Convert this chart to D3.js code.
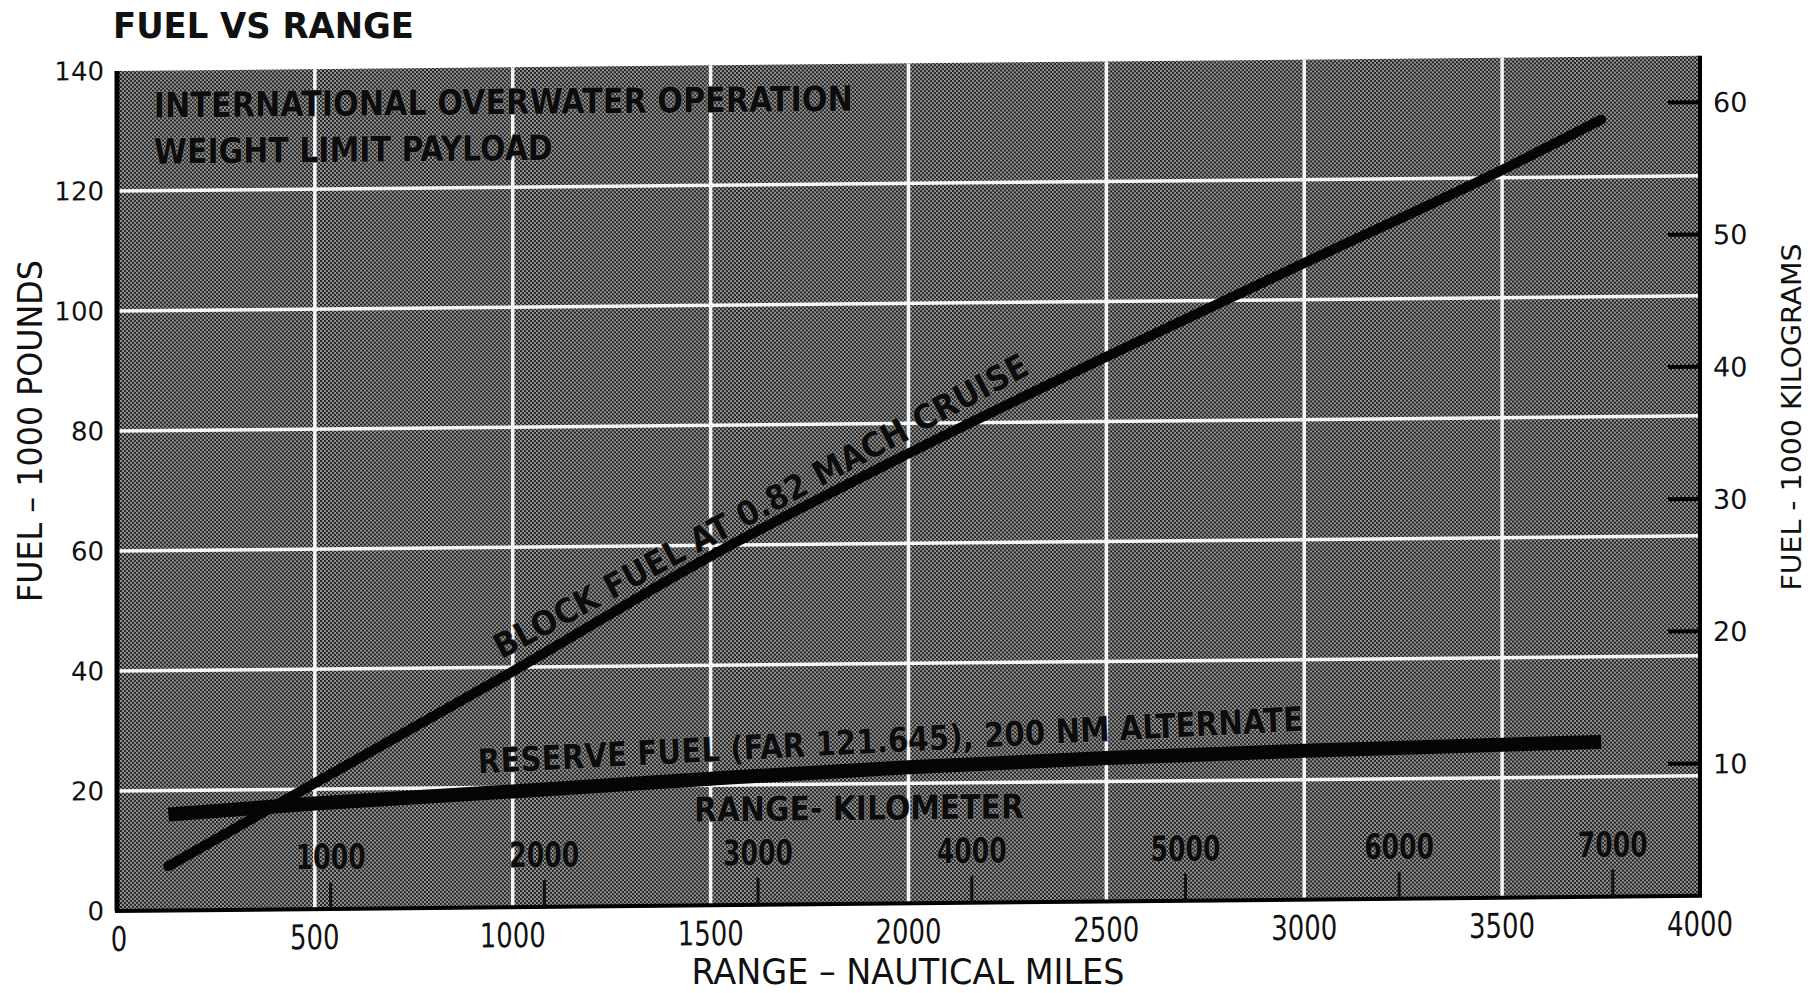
<!DOCTYPE html>
<html><head><meta charset="utf-8">
<script src="https://cdn.jsdelivr.net/npm/d3@7"></script>
<style>
html,body{margin:0;padding:0;background:#fff;}
svg{display:block;}
</style></head>
<body>
<svg id="chart" width="1815" height="993"></svg>
<script>
// ---------------- data ----------------
const rangeNM     = [130, 500, 1000, 1500, 2000, 2500, 3000, 3500, 3750];
const blockFuel   = [7.4, 21.0, 39.3, 58.2, 75.0, 90.8, 106.1, 121.3, 129.5];   // 1000 lb
const reserveFuel = [16.0, 17.6, 19.3, 21.1, 22.7, 23.9, 24.8, 25.5, 25.8];     // 1000 lb
const xTicksNM  = [0, 500, 1000, 1500, 2000, 2500, 3000, 3500, 4000];
const yTicksLb  = [0, 20, 40, 60, 80, 100, 120, 140];
const yTicksKg  = [10, 20, 30, 40, 50, 60];
const kmTicks   = [1000, 2000, 3000, 4000, 5000, 6000, 7000];
const KM_PER_NM = 1.852;
const LB_PER_KG = 2.20462;

const titleText   = "FUEL VS RANGE";
const noteLine1   = "INTERNATIONAL OVERWATER OPERATION";
const noteLine2   = "WEIGHT LIMIT PAYLOAD";
const blockLabel  = "BLOCK FUEL AT 0.82 MACH CRUISE";
const reserveLabel= "RESERVE FUEL (FAR 121.645), 200 NM ALTERNATE";
const kmLabel     = "RANGE- KILOMETER";
const xTitle      = "RANGE \u2013 NAUTICAL MILES";
const yTitleL     = "FUEL \u2013 1000 POUNDS";
const yTitleR     = "FUEL - 1000 KILOGRAMS";

// ---------------- layout ----------------
const svg = d3.select("#chart");
const X0 = 117, X1 = 1700, Y0 = 911, Y1 = 71;
const x = d3.scaleLinear().domain([0, 4000]).range([X0, X1]);
const y = d3.scaleLinear().domain([0, 140]).range([Y0, Y1]);
const yKg = d3.scaleLinear().domain([0, 140 / LB_PER_KG]).range([Y0, Y1]);

const NARROW = "'Liberation Sans Narrow','DejaVu Sans Condensed','Liberation Sans',sans-serif";
const WIDE = "'DejaVu Sans','Liberation Sans',sans-serif";

// halftone pattern
const defs = svg.append("defs");
const pat = defs.append("pattern").attr("id", "halftone")
  .attr("patternUnits", "userSpaceOnUse").attr("width", 4).attr("height", 4);
pat.append("rect").attr("width", 4).attr("height", 4).attr("fill", "#1c1c1c");
pat.append("rect").attr("x", 0).attr("y", 0).attr("width", 2).attr("height", 2).attr("fill", "#9a9a9a");
pat.append("rect").attr("x", 2).attr("y", 2).attr("width", 2).attr("height", 2).attr("fill", "#9a9a9a");

// chart title (not skewed)
svg.append("text").attr("x", 113).attr("y", 38)
  .attr("font-family", NARROW).attr("font-weight", "bold").attr("font-size", 36)
  .attr("textLength", 301).attr("lengthAdjust", "spacingAndGlyphs")
  .attr("fill", "#111").text(titleText);

// the scanned page is slightly skewed: right side sits higher
const g = svg.append("g")
  .attr("transform", `translate(${X0},0) skewY(-0.55) translate(${-X0},0)`);

// background
g.append("rect").attr("x", x(0)).attr("y", y(140))
  .attr("width", x(4000) - x(0)).attr("height", y(0) - y(140))
  .attr("fill", "url(#halftone)");

// white grid
g.append("g").selectAll("line").data(xTicksNM.filter(v => v > 0 && v < 4000)).join("line")
  .attr("x1", d => x(d)).attr("x2", d => x(d)).attr("y1", y(140)).attr("y2", y(0))
  .attr("stroke", "#f6f6f6").attr("stroke-width", 3.5);
g.append("g").selectAll("line").data(yTicksLb.filter(v => v > 0 && v < 140)).join("line")
  .attr("x1", x(0)).attr("x2", x(4000)).attr("y1", d => y(d)).attr("y2", d => y(d))
  .attr("stroke", "#f6f6f6").attr("stroke-width", 3.5);

// frame
g.append("line").attr("x1", x(0)).attr("x2", x(0)).attr("y1", y(140)).attr("y2", y(0))
  .attr("stroke", "#000").attr("stroke-width", 5);
g.append("line").attr("x1", x(4000)).attr("x2", x(4000)).attr("y1", y(140)).attr("y2", y(0))
  .attr("stroke", "#000").attr("stroke-width", 4);
g.append("line").attr("x1", x(0) - 2).attr("x2", x(4000) + 2).attr("y1", y(0)).attr("y2", y(0))
  .attr("stroke", "#000").attr("stroke-width", 4);

// left axis labels
g.append("g").selectAll("text").data(yTicksLb).join("text")
  .attr("x", x(0) - 13).attr("y", d => y(d) + 9)
  .attr("text-anchor", "end").attr("font-family", WIDE).attr("font-size", 26)
  .attr("fill", "#111").text(d => d);

// bottom axis labels
g.append("g").selectAll("text").data(xTicksNM).join("text")
  .attr("x", d => x(d) + (d === 0 ? 2 : 0)).attr("y", y(0) + 40)
  .attr("text-anchor", "middle").attr("font-family", NARROW).attr("font-size", 34)
  .attr("textLength", d => String(d).length * 16.5).attr("lengthAdjust", "spacingAndGlyphs")
  .attr("fill", "#111").text(d => d);

// right axis (kg)
g.append("g").selectAll("line").data(yTicksKg).join("line")
  .attr("x1", x(4000) - 32).attr("x2", x(4000)).attr("y1", d => yKg(d)).attr("y2", d => yKg(d))
  .attr("stroke", "#000").attr("stroke-width", 4);
g.append("g").selectAll("text").data(yTicksKg).join("text")
  .attr("x", x(4000) + 13).attr("y", d => yKg(d) + 10)
  .attr("font-family", WIDE).attr("font-size", 27)
  .attr("fill", "#111").text(d => d);

// km scale inside the plot
g.append("g").selectAll("line").data(kmTicks).join("line")
  .attr("x1", d => x(d / KM_PER_NM)).attr("x2", d => x(d / KM_PER_NM))
  .attr("y1", y(0)).attr("y2", y(0) - 27)
  .attr("stroke", "#111").attr("stroke-width", 3);
const labelStyle = sel => sel
  .attr("font-family", NARROW).attr("font-weight", "bold")
  .attr("fill", "#0c0c0c").attr("stroke", "#7a7a7a").attr("stroke-width", 1.2)
  .attr("paint-order", "stroke");
g.append("g").selectAll("text").data(kmTicks).join("text")
  .attr("x", d => x(d / KM_PER_NM)).attr("y", y(0) - 40)
  .attr("text-anchor", "middle").attr("font-size", 35)
  .attr("textLength", 70).attr("lengthAdjust", "spacingAndGlyphs")
  .call(labelStyle).text(d => d);

g.append("text").attr("x", x(1458)).attr("y", y(14))
  .attr("font-size", 34).attr("textLength", 330).attr("lengthAdjust", "spacingAndGlyphs")
  .call(labelStyle).text(kmLabel);

// header notes
g.append("text").attr("x", x(93)).attr("y", y(132.2))
  .attr("font-size", 35).attr("textLength", 699).attr("lengthAdjust", "spacingAndGlyphs")
  .call(labelStyle).text(noteLine1);
g.append("text").attr("x", x(93)).attr("y", y(124.5))
  .attr("font-size", 35).attr("textLength", 399).attr("lengthAdjust", "spacingAndGlyphs")
  .call(labelStyle).text(noteLine2);

// curves
const pts = s => rangeNM.map((r, i) => [r, s[i]]);
const line = d3.line().x(d => x(d[0])).y(d => y(d[1])).curve(d3.curveMonotoneX);

g.append("path").datum(pts(reserveFuel)).attr("d", line)
  .attr("fill", "none").attr("stroke", "#050505").attr("stroke-width", 14)
  .attr("stroke-linecap", "butt");
g.append("path").datum(pts(blockFuel)).attr("d", line)
  .attr("fill", "none").attr("stroke", "#050505").attr("stroke-width", 10)
  .attr("stroke-linecap", "round");

// labels along the curves
function interp(series, r) {
  return d3.scaleLinear().domain(rangeNM).range(series)(r);
}
function alongLabel(series, rStart, rA, rB, offset, text, len) {
  const ax = x(rA), ay = y(interp(series, rA));
  const bx = x(rB), by = y(interp(series, rB));
  const ang = Math.atan2(by - ay, bx - ax);
  const px = x(rStart), py = y(interp(series, rStart));
  const nx = Math.sin(ang), ny = -Math.cos(ang);
  const tx = px + nx * offset, ty = py + ny * offset;
  g.append("text")
    .attr("transform", `translate(${tx},${ty}) rotate(${ang * 180 / Math.PI})`)
    .attr("font-size", 34).attr("textLength", len).attr("lengthAdjust", "spacingAndGlyphs")
    .call(labelStyle).text(text);
}
alongLabel(blockFuel, 990, 1000, 2200, 16, blockLabel, 600);
alongLabel(reserveFuel, 915, 900, 3000, 20, reserveLabel, 826);

// axis titles (not skewed)
svg.append("text").attr("x", 908).attr("y", 984).attr("text-anchor", "middle")
  .attr("font-family", NARROW).attr("font-size", 35)
  .attr("textLength", 433).attr("lengthAdjust", "spacingAndGlyphs")
  .attr("fill", "#111").text(xTitle);
svg.append("text").attr("transform", "translate(42,431) rotate(-90)").attr("text-anchor", "middle")
  .attr("font-family", NARROW).attr("font-size", 33)
  .attr("textLength", 342).attr("lengthAdjust", "spacingAndGlyphs")
  .attr("fill", "#111").text(yTitleL);
svg.append("text").attr("transform", "translate(1801,417) rotate(-90)").attr("text-anchor", "middle")
  .attr("font-family", WIDE).attr("font-size", 26)
  .attr("textLength", 347).attr("lengthAdjust", "spacingAndGlyphs")
  .attr("fill", "#111").text(yTitleR);
</script>
</body></html>
